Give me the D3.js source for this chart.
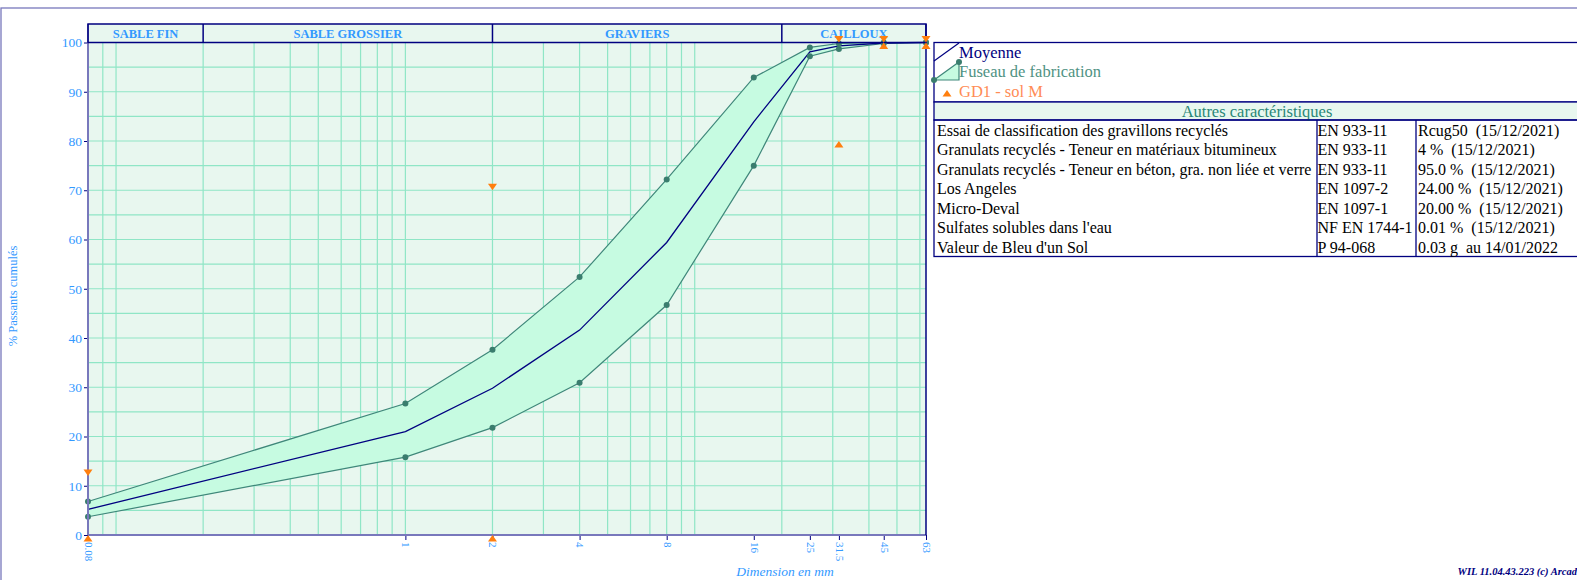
<!DOCTYPE html>
<html>
<head>
<meta charset="utf-8">
<script src="https://cdn.jsdelivr.net/npm/d3@7"></script>
<style>
  body { margin: 0; background: #fff; }
  svg { display: block; font-family: "Liberation Serif", "Times New Roman", serif; }
</style>
</head>
<body>
<div id="chart"></div>
<script>
// tamis (mm) et courbes du fuseau
var sieves    = [0.08, 1, 2, 4, 8, 16, 25, 31.5, 45, 63];
var sieveLbl  = ["0.08", "1", "2", "4", "8", "16", "25", "31.5", "45", "63"];
var fuseauMax = [6.8, 26.7, 37.6, 52.4, 72.2, 92.9, 99.0, 99.8, 100, 100];
var fuseauMin = [3.7, 15.8, 21.8, 30.9, 46.7, 75.0, 97.2, 98.7, 99.8, 100];
var moyenne   = [5.2, 21.0, 29.8, 41.6, 59.4, 83.9, 98.1, 99.3, 99.9, 100];

// GD1 - sol M : bornes (triangle bas = maxi, triangle haut = mini)
var gdSieves = [0.08, 2, 31.5, 45, 63];
var gdMax    = [12, 70, 100, 100, 100];
var gdMin    = [0, 0, 80, 100, 100];

// zones granulaires
var zones    = ["SABLE FIN", "SABLE GROSSIER", "GRAVIERS", "CAILLOUX"];
var zoneFrom = [0.08, 0.2, 2, 20];
var zoneTo   = [0.2, 2, 20, 63];

// tableau des caractéristiques
var caracNames = ["Essai de classification des gravillons recyclés",
  "Granulats recyclés - Teneur en matériaux bitumineux",
  "Granulats recyclés - Teneur en béton, gra. non liée et verre",
  "Los Angeles", "Micro-Deval", "Sulfates solubles dans l'eau",
  "Valeur de Bleu d'un Sol"];
var caracNorms = ["EN 933-11", "EN 933-11", "EN 933-11", "EN 1097-2",
  "EN 1097-1", "NF EN 1744-1", "P 94-068"];
var caracValues = ["Rcug50  (15/12/2021)", "4 %  (15/12/2021)",
  "95.0 %  (15/12/2021)", "24.00 %  (15/12/2021)", "20.00 %  (15/12/2021)",
  "0.01 %  (15/12/2021)", "0.03 g  au 14/01/2022"];

var W = 1577, H = 580;
var navy = "#000080", axisCol = "#7878bc", blue = "#3399ff",
    gridCol = "#8fe6c6", teal = "#3f877a", orange = "#ff7f0e";

var svg = d3.select("#chart").append("svg")
  .attr("width", W).attr("height", H);

// cadre général
svg.append("rect").attr("x", 1).attr("y", 8).attr("width", W + 10).attr("height", H)
  .attr("fill", "none").attr("stroke", axisCol).attr("stroke-width", 1.3);

var x = d3.scaleLog().domain([0.08, 63]).range([88, 926]);
var y = d3.scaleLinear().domain([0, 100]).range([535, 42.5]);

// fond
svg.append("rect")
  .attr("x", x(0.08)).attr("y", 24)
  .attr("width", x(63) - x(0.08)).attr("height", y(0) - 24)
  .attr("fill", "#e8f7ef");

// grille
var vgrid = [0.09];
[0.1, 1, 10].forEach(function(p) {
  for (var k = 1; k <= 9; k++) {
    var v = +(k * p).toFixed(3);
    if (v > 0.08 && v < 63) vgrid.push(v);
  }
});
var g = svg.append("g");
g.selectAll("line.v").data(vgrid).enter().append("line")
  .attr("x1", function(d) { return x(d); }).attr("x2", function(d) { return x(d); })
  .attr("y1", y(100)).attr("y2", y(0))
  .attr("stroke", gridCol).attr("stroke-width", 1.2);
g.selectAll("line.h").data(d3.range(5, 100, 5)).enter().append("line")
  .attr("x1", x(0.08)).attr("x2", x(63))
  .attr("y1", function(d) { return y(d); }).attr("y2", function(d) { return y(d); })
  .attr("stroke", gridCol).attr("stroke-width", 1.2);

// fuseau
var pts = sieves.map(function(s, i) { return { s: s, lo: fuseauMin[i], hi: fuseauMax[i], m: moyenne[i] }; });
svg.append("path").datum(pts)
  .attr("fill", "#c6fbe1")
  .attr("d", d3.area()
    .x(function(d) { return x(d.s); })
    .y0(function(d) { return y(d.lo); })
    .y1(function(d) { return y(d.hi); }));

["lo", "hi"].forEach(function(k) {
  svg.append("path").datum(pts)
    .attr("fill", "none").attr("stroke", teal).attr("stroke-width", 1.2)
    .attr("d", d3.line().x(function(d) { return x(d.s); }).y(function(d) { return y(d[k]); }));
});
svg.append("path").datum(pts)
  .attr("fill", "none").attr("stroke", navy).attr("stroke-width", 1.3)
  .attr("d", d3.line().x(function(d) { return x(d.s); }).y(function(d) { return y(d.m); }));

["lo", "hi"].forEach(function(k) {
  svg.append("g").selectAll("circle").data(pts).enter().append("circle")
    .attr("cx", function(d) { return x(d.s); })
    .attr("cy", function(d) { return y(d[k]); })
    .attr("r", 3).attr("fill", "#3a7d6e");
});

// axes
var xAxis = svg.append("g")
  .attr("transform", "translate(0," + y(0) + ")")
  .call(d3.axisBottom(x).tickValues(sieves)
    .tickFormat(function(d, i) { return sieveLbl[i]; }).tickSize(5));
xAxis.select(".domain").remove();
xAxis.selectAll("line").attr("stroke", navy);
xAxis.selectAll("text")
  .attr("transform", "rotate(90)")
  .attr("x", 7).attr("y", 0).attr("dy", "0.33em")
  .attr("text-anchor", "start")
  .attr("fill", blue).style("font-size", "11px")
  .style("font-family", "Liberation Serif");

var yAxis = svg.append("g")
  .attr("transform", "translate(" + x(0.08) + ",0)")
  .call(d3.axisLeft(y).tickValues(d3.range(0, 101, 10)).tickSize(4).tickPadding(2));
yAxis.select(".domain").remove();
yAxis.selectAll("line").attr("stroke", navy);
yAxis.selectAll("text").attr("fill", blue).style("font-size", "13.5px")
  .style("font-family", "Liberation Serif");

// bords
svg.append("line").attr("x1", x(0.08)).attr("x2", x(0.08)).attr("y1", 24).attr("y2", y(0))
  .attr("stroke", axisCol).attr("stroke-width", 2);
svg.append("line").attr("x1", x(0.08)).attr("x2", x(63)).attr("y1", y(0)).attr("y2", y(0))
  .attr("stroke", axisCol).attr("stroke-width", 2);
svg.append("line").attr("x1", x(63)).attr("x2", x(63)).attr("y1", 24).attr("y2", y(0))
  .attr("stroke", navy).attr("stroke-width", 1.5);

// bandeau des zones
var hdr = svg.append("g");
hdr.append("rect").attr("x", x(0.08)).attr("y", 24)
  .attr("width", x(63) - x(0.08)).attr("height", y(100) - 24)
  .attr("fill", "none").attr("stroke", navy).attr("stroke-width", 1.5);
zones.forEach(function(z, i) {
  if (i > 0) {
    hdr.append("line").attr("x1", x(zoneFrom[i])).attr("x2", x(zoneFrom[i]))
      .attr("y1", 24).attr("y2", y(100)).attr("stroke", navy).attr("stroke-width", 1.5);
  }
  hdr.append("text")
    .attr("x", (x(zoneFrom[i]) + x(zoneTo[i])) / 2).attr("y", 38)
    .attr("text-anchor", "middle").attr("fill", blue)
    .style("font-size", "12.5px").style("font-weight", "bold")
    .text(z);
});

// GD1 - sol M
function tri(cx, cy, up) {
  var dy = up ? 6.5 : -6.5;
  return "M" + (cx - 4.5) + "," + (cy + dy) + "L" + (cx + 4.5) + "," + (cy + dy) + "L" + cx + "," + cy + "Z";
}
gdSieves.forEach(function(s, i) {
  svg.append("path").attr("d", tri(x(s), y(gdMax[i]), false)).attr("fill", orange);
  svg.append("path").attr("d", tri(x(s), y(gdMin[i]), true)).attr("fill", orange);
});

// titres des axes
svg.append("text").attr("transform", "translate(17,296) rotate(-90)")
  .attr("text-anchor", "middle").attr("fill", blue).style("font-size", "12.5px")
  .text("% Passants cumulés");
svg.append("text").attr("x", 785).attr("y", 576)
  .attr("text-anchor", "middle").attr("fill", blue)
  .style("font-size", "13.5px").style("font-style", "italic")
  .text("Dimension en mm");

// légende
var lx = 934;
var leg = svg.append("g");
leg.append("rect").attr("x", lx).attr("y", 42.5).attr("width", W).attr("height", 59.5)
  .attr("fill", "#fff").attr("stroke", navy).attr("stroke-width", 1.3);
leg.append("line").attr("x1", lx).attr("y1", 61).attr("x2", lx + 25).attr("y2", 43)
  .attr("stroke", navy).attr("stroke-width", 1.2);
leg.append("text").attr("x", 959).attr("y", 58).attr("fill", navy)
  .style("font-size", "16.5px").text("Moyenne");
leg.append("path").attr("d", "M" + lx + ",80L" + (lx + 25) + ",62L" + (lx + 25) + ",80Z")
  .attr("fill", "#c6fbe1").attr("stroke", teal).attr("stroke-width", 1.2);
leg.append("circle").attr("cx", lx).attr("cy", 80).attr("r", 3).attr("fill", "#3a7d6e");
leg.append("circle").attr("cx", lx + 25).attr("cy", 62).attr("r", 3).attr("fill", "#3a7d6e");
leg.append("text").attr("x", 959).attr("y", 77).attr("fill", "#4f9283")
  .style("font-size", "16.5px").text("Fuseau de fabrication");
leg.append("path").attr("d", tri(947, 90, true)).attr("fill", orange);
leg.append("text").attr("x", 959).attr("y", 97).attr("fill", "#ff8c55")
  .style("font-size", "16.5px").text("GD1 - sol M");

// tableau
var tTop = 102, tHead = 120, rowH = 19.5, c1 = 1317, c2 = 1416, tRight = 1580;
var tb = svg.append("g");
tb.append("rect").attr("x", lx).attr("y", tTop).attr("width", tRight - lx).attr("height", tHead - tTop)
  .attr("fill", "#e8f7ef").attr("stroke", navy).attr("stroke-width", 1.3);
tb.append("text").attr("x", (lx + tRight) / 2).attr("y", tHead - 3)
  .attr("text-anchor", "middle").attr("fill", "#2a8777").style("font-size", "16.5px")
  .text("Autres caractéristiques");
var tBottom = tHead + rowH * caracNames.length;
tb.append("rect").attr("x", lx).attr("y", tHead).attr("width", tRight - lx).attr("height", tBottom - tHead)
  .attr("fill", "none").attr("stroke", navy).attr("stroke-width", 1.3);
[c1, c2].forEach(function(cx) {
  tb.append("line").attr("x1", cx).attr("x2", cx).attr("y1", tHead).attr("y2", tBottom)
    .attr("stroke", navy).attr("stroke-width", 1.3);
});
[[caracNames, lx + 3], [caracNorms, c1 + 0.5], [caracValues, c2 + 2]].forEach(function(col) {
  tb.selectAll(null).data(col[0]).enter().append("text")
    .attr("x", col[1]).attr("y", function(d, i) { return tHead + rowH * i + 15.5; })
    .attr("fill", "#000").style("font-size", "16px").style("white-space", "pre")
    .text(function(d) { return d; });
});

// signature
svg.append("text").attr("x", W).attr("y", 575).attr("text-anchor", "end")
  .attr("fill", navy).style("font-size", "10.5px").style("font-weight", "bold")
  .style("font-style", "italic").text("WIL 11.04.43.223 (c) Arcad");
</script>
</body>
</html>
